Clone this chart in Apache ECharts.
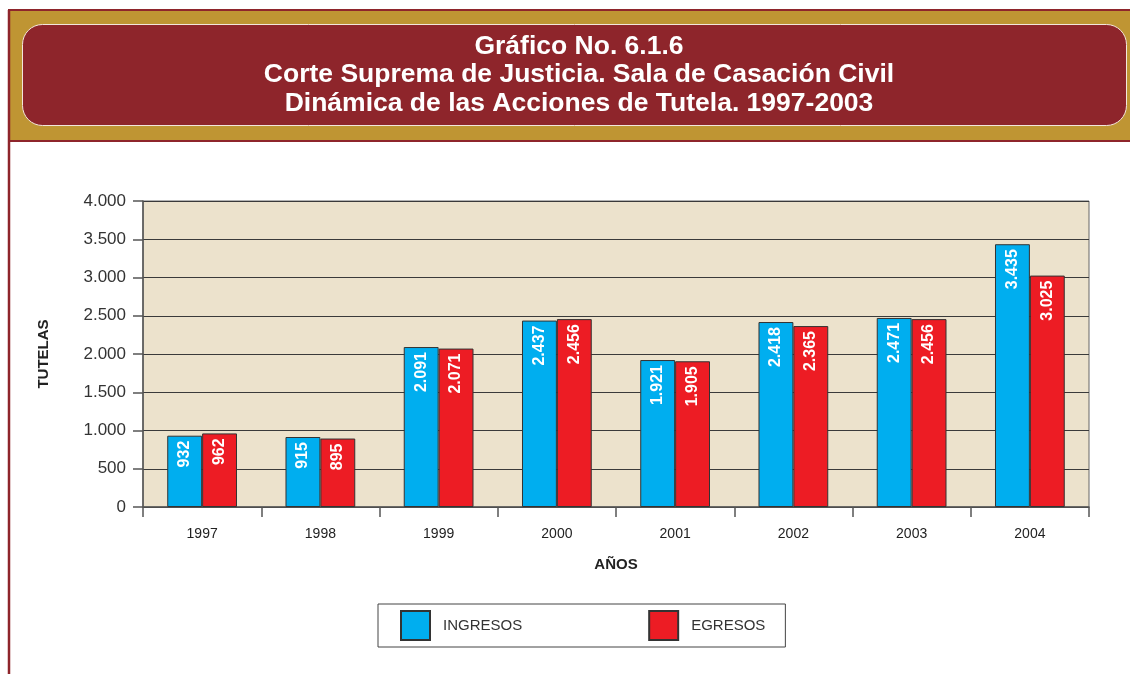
<!DOCTYPE html>
<html>
<head>
<meta charset="utf-8">
<script src="https://cdn.jsdelivr.net/npm/echarts@6/dist/echarts.min.js"></script>
<style>
  html, body { margin: 0; padding: 0; background: #fff; }
  #chart { width: 1130px; height: 674px; }
</style>
</head>
<body>
<div id="chart"></div>
<script>
// datos
var years = ["1997", "1998", "1999", "2000", "2001", "2002", "2003", "2004"];
var ingresos = [932, 915, 2091, 2437, 1921, 2418, 2471, 3435];
var egresos = [962, 895, 2071, 2456, 1905, 2365, 2456, 3025];
var titleLines = [
  "Gráfico No. 6.1.6",
  "Corte Suprema de Justicia. Sala de Casación Civil",
  "Dinámica de las Acciones de Tutela. 1997-2003"
];

var FONT = "'Liberation Sans', Arial, sans-serif";

// separador de miles con punto
function fmt(v) {
  return String(v).replace(/\B(?=(\d{3})+(?!\d))/g, ".");
}

var chart = echarts.init(document.getElementById("chart"));

var barLabel = {
  show: true,
  position: "insideTop",
  rotate: 90,
  align: "right",
  verticalAlign: "middle",
  distance: 5,
  color: "#fff",
  fontFamily: FONT,
  fontWeight: "bold",
  fontSize: 16,
  formatter: function (p) { return fmt(p.value); }
};

var option = {
  backgroundColor: "#fff",
  animation: false,
  title: {
    text: titleLines.join("\n"),
    left: 574,
    top: 27,
    textAlign: "center",
    z: 10,
    textStyle: {
      color: "#fff",
      fontFamily: FONT,
      fontWeight: "bold",
      fontSize: 26.5,
      lineHeight: 28.5
    }
  },
  graphic: [
    {
      type: "rect", z: 0, silent: true,
      shape: { x: 9, y: 10, width: 1130, height: 131 },
      style: { fill: "#BF9533", stroke: "#8E252B", lineWidth: 2 }
    },
    {
      type: "line", z: 0, silent: true,
      shape: { x1: 9, y1: 10, x2: 9, y2: 674 },
      style: { stroke: "#8E252B", lineWidth: 2.5 }
    },
    {
      type: "rect", z: 1, silent: true,
      shape: { x: 22.5, y: 24.5, width: 1104, height: 101, r: 20 },
      style: { fill: "#8E252B", stroke: "#F3E6DC", lineWidth: 1 }
    }
  ],
  legend: {
    left: 378,
    top: 604,
    orient: "horizontal",
    icon: "rect",
    itemWidth: 29,
    itemHeight: 29,
    itemGap: 126,
    padding: [6, 20, 6, 22],
    borderColor: "#444",
    borderWidth: 1,
    textStyle: {
      color: "#333",
      fontFamily: FONT,
      fontSize: 15,
      padding: [0, 0, 0, 8]
    },
    data: ["INGRESOS", "EGRESOS"]
  },
  grid: {
    left: 143,
    right: 41,
    top: 201,
    bottom: 167,
    show: true,
    backgroundColor: "#ECE2CC",
    borderColor: "#666",
    borderWidth: 1
  },
  xAxis: {
    type: "category",
    data: years,
    name: "AÑOS",
    nameLocation: "middle",
    nameGap: 50,
    nameTextStyle: {
      color: "#222", fontFamily: FONT, fontWeight: "bold", fontSize: 15
    },
    axisLine: { lineStyle: { color: "#555", width: 1.5 } },
    axisTick: { show: true, alignWithLabel: false, length: 10, lineStyle: { color: "#555", width: 1.5 } },
    axisLabel: { color: "#222", fontFamily: FONT, fontSize: 14, margin: 20 }
  },
  yAxis: {
    type: "value",
    min: 0,
    max: 4000,
    interval: 500,
    name: "TUTELAS",
    nameLocation: "middle",
    nameGap: 92,
    nameTextStyle: {
      color: "#222", fontFamily: FONT, fontWeight: "bold", fontSize: 15
    },
    axisLine: { show: true, lineStyle: { color: "#555", width: 1.5 } },
    axisTick: { show: true, length: 10, lineStyle: { color: "#555", width: 1.5 } },
    axisLabel: {
      color: "#333", fontFamily: FONT, fontSize: 17, margin: 17,
      formatter: function (v) { return fmt(v); }
    },
    splitLine: { show: true, lineStyle: { color: "#3a3a3a", width: 1.2 } }
  },
  series: [
    {
      name: "INGRESOS",
      type: "bar",
      data: ingresos,
      barGap: "0%",
      barCategoryGap: "41%",
      itemStyle: { color: "#00AEEF", borderColor: "#333", borderWidth: 1 },
      label: barLabel
    },
    {
      name: "EGRESOS",
      type: "bar",
      data: egresos,
      itemStyle: { color: "#ED1C24", borderColor: "#333", borderWidth: 1 },
      label: barLabel
    }
  ]
};

chart.setOption(option);
</script>
</body>
</html>
